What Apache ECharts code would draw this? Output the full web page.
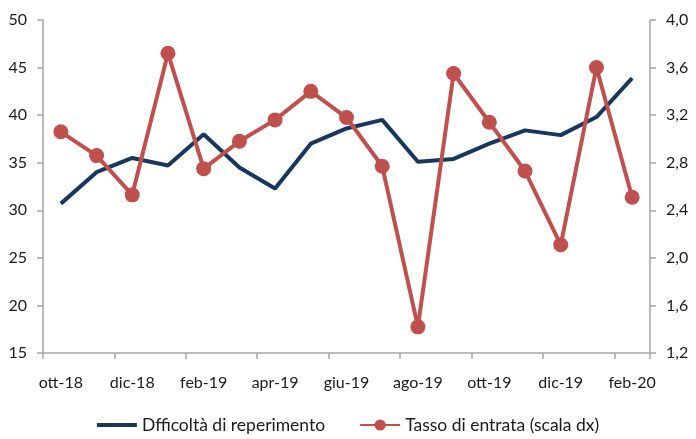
<!DOCTYPE html>
<html>
<head>
<meta charset="utf-8">
<script src="https://cdn.jsdelivr.net/npm/echarts@6/dist/echarts.min.js"></script>
<style>
  html, body { margin: 0; padding: 0; background: #fff; }
  #chart { width: 696px; height: 439px; }
</style>
</head>
<body>
<div id="chart"></div>
<script>
// Monthly series, ott-18 .. feb-20. Left axis: difficulty; right axis: entry rate.
const months = [
  'ott-18', 'nov-18', 'dic-18', 'gen-19', 'feb-19', 'mar-19', 'apr-19', 'mag-19', 'giu-19',
  'lug-19', 'ago-19', 'set-19', 'ott-19', 'nov-19', 'dic-19', 'gen-20', 'feb-20',
];
const difficolta = [
  30.7, 34.0, 35.5, 34.7, 38.0, 34.5, 32.3, 37.0, 38.6,
  39.5, 35.1, 35.4, 37.0, 38.4, 37.9, 39.8, 43.9,
];
const tassoEntrata = [
  3.06, 2.86, 2.53, 3.72, 2.75, 2.98, 3.16, 3.40, 3.18,
  2.77, 1.42, 3.55, 3.14, 2.73, 2.11, 3.60, 2.51,
];

const FONT = 'Lato';
const AXIS_GRAY = '#a6a6a6';
const TEXT = '#1a1a1a';
const BLUE = '#17375e';
const RED = '#c0504d';

const chart = echarts.init(document.getElementById('chart'), null, { renderer: 'canvas' });

chart.setOption({
  backgroundColor: '#fff',
  animation: false,
  textStyle: { fontFamily: FONT, color: TEXT },
  grid: { left: 43, right: 46, top: 20, bottom: 86 },
  legend: {
    bottom: 0,
    left: 'center',
    itemWidth: 40,
    itemHeight: 14,
    itemGap: 34,
    textStyle: { fontFamily: FONT, fontSize: 17.5, color: TEXT },
    data: [
      // plain line icon: the line series would otherwise get a circle marker
      { name: 'Dfficoltà di reperimento', icon: 'path://M0,0 L40,0 L40,4 L0,4 Z' },
      'Tasso di entrata (scala dx)',
    ],
  },
  xAxis: {
    type: 'category',
    data: months,
    boundaryGap: true,
    axisLine: { lineStyle: { color: AXIS_GRAY, width: 1.5 } },
    axisTick: { show: true, interval: 1, length: 6, lineStyle: { color: AXIS_GRAY, width: 1.5 } },
    axisLabel: { interval: 1, margin: 22, fontSize: 16, color: TEXT, fontFamily: FONT },
    splitLine: { show: false },
  },
  yAxis: [
    {
      type: 'value',
      min: 15,
      max: 50,
      interval: 5,
      position: 'left',
      axisLine: { show: true, lineStyle: { color: AXIS_GRAY, width: 1.5 } },
      axisTick: { show: true, length: 6, lineStyle: { color: AXIS_GRAY, width: 1.5 } },
      axisLabel: { margin: 16, fontSize: 16, color: TEXT, fontFamily: FONT },
      splitLine: { show: false },
    },
    {
      type: 'value',
      min: 1.2,
      max: 4.0,
      interval: 0.4,
      position: 'right',
      axisLine: { show: true, lineStyle: { color: AXIS_GRAY, width: 1.5 } },
      axisTick: { show: true, length: 6, lineStyle: { color: AXIS_GRAY, width: 1.5 } },
      axisLabel: {
        margin: 16,
        fontSize: 16,
        color: TEXT,
        fontFamily: FONT,
        formatter: (v) => v.toFixed(1).replace('.', ','),
      },
      splitLine: { show: false },
    },
  ],
  series: [
    {
      name: 'Dfficoltà di reperimento',
      type: 'line',
      yAxisIndex: 0,
      data: difficolta,
      symbol: 'none',
      color: BLUE,
      itemStyle: { color: BLUE },
      lineStyle: { width: 4, color: BLUE },
      z: 2,
    },
    {
      name: 'Tasso di entrata (scala dx)',
      type: 'line',
      yAxisIndex: 1,
      data: tassoEntrata,
      symbol: 'circle',
      symbolSize: 15,
      showSymbol: true,
      color: RED,
      itemStyle: { color: RED },
      lineStyle: { width: 4, color: RED },
      z: 3,
    },
  ],
});
</script>
</body>
</html>
